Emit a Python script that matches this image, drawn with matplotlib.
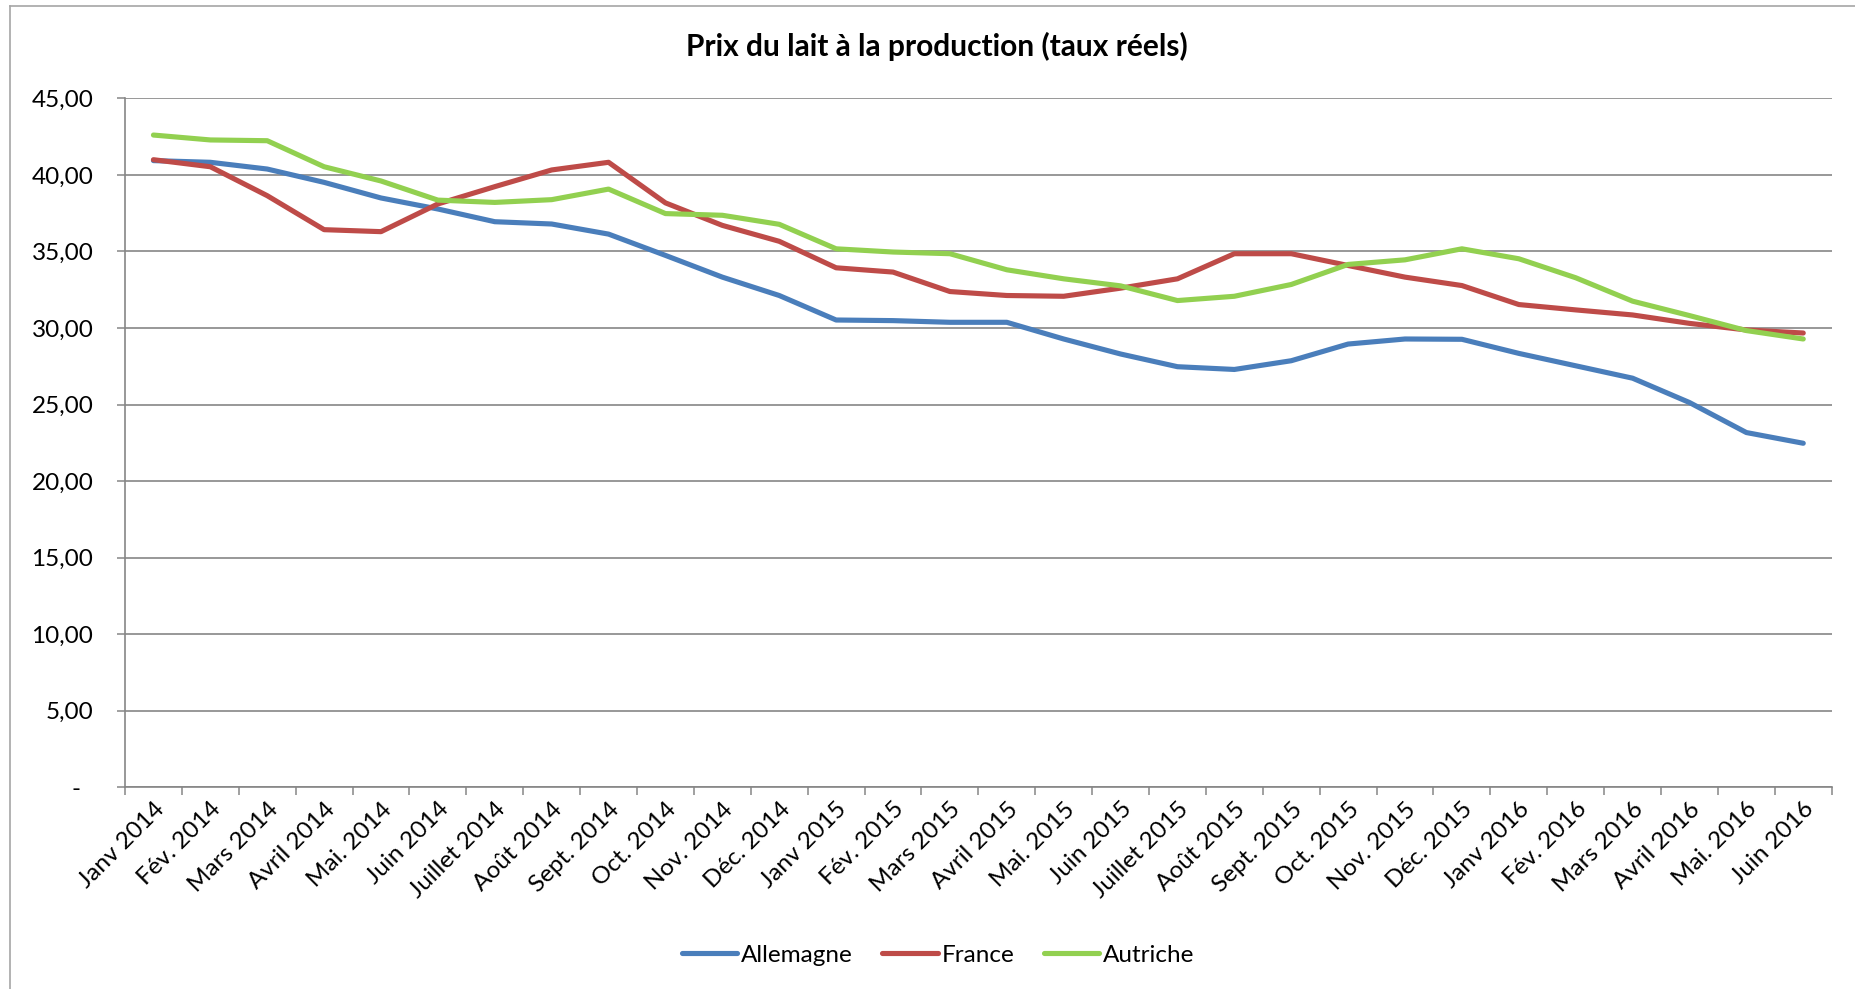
import matplotlib

matplotlib.use("Agg")
import matplotlib.pyplot as plt
from matplotlib.lines import Line2D

plt.rcParams["font.family"] = ["Lato", "DejaVu Sans"]

# Prix du lait (taux reels)
mois = [
    "Janv 2014", "Fév. 2014", "Mars 2014", "Avril 2014", "Mai. 2014", "Juin 2014",
    "Juillet 2014", "Août 2014", "Sept. 2014", "Oct. 2014", "Nov. 2014", "Déc. 2014",
    "Janv 2015", "Fév. 2015", "Mars 2015", "Avril 2015", "Mai. 2015", "Juin 2015",
    "Juillet 2015", "Août 2015", "Sept. 2015", "Oct. 2015", "Nov. 2015", "Déc. 2015",
    "Janv 2016", "Fév. 2016", "Mars 2016", "Avril 2016", "Mai. 2016", "Juin 2016",
]
allemagne = [40.93, 40.82, 40.38, 39.51, 38.49, 37.77, 36.94, 36.79, 36.13, 34.74,
             33.32, 32.12, 30.52, 30.48, 30.37, 30.37, 29.28, 28.30, 27.47, 27.29,
             27.86, 28.95, 29.28, 29.26, 28.34, 27.53, 26.72, 25.13, 23.17, 22.47]
france = [40.99, 40.53, 38.64, 36.42, 36.29, 38.10, 39.23, 40.32, 40.82, 38.17,
          36.70, 35.66, 33.93, 33.65, 32.38, 32.12, 32.07, 32.60, 33.21, 34.85,
          34.85, 34.08, 33.32, 32.77, 31.53, 31.18, 30.85, 30.30, 29.87, 29.67]
autriche = [42.60, 42.28, 42.23, 40.53, 39.60, 38.35, 38.20, 38.38, 39.07, 37.47,
            37.36, 36.77, 35.17, 34.96, 34.85, 33.80, 33.21, 32.75, 31.79, 32.07,
            32.84, 34.15, 34.45, 35.17, 34.52, 33.28, 31.75, 30.81, 29.83, 29.28]
yticks = [0, 5, 10, 15, 20, 25, 30, 35, 40, 45]

GRIS = "#868686"
W, H = 1856, 989
TAILLE = 17.5

fig = plt.figure(figsize=(W / 100, H / 100), dpi=100)
ax = fig.add_axes([125 / W, 1 - 787.3 / H, (1831.7 - 125) / W, (787.3 - 98.3) / H])

x = list(range(len(mois)))
series = [("Allemagne", allemagne, "#4A7EBB"),
          ("France", france, "#BE4B48"),
          ("Autriche", autriche, "#92D050")]
for nom, vals, couleur in series:
    ax.plot(x, vals, color=couleur, lw=3.7, label=nom,
            solid_capstyle="round", solid_joinstyle="round", zorder=3)

ax.set_xlim(-0.5, len(mois) - 0.5)
ax.set_ylim(0, 45)

ax.set_yticks(yticks)
ax.set_yticklabels(["-  "] + [f"{v:.2f}".replace(".", ",") for v in yticks[1:]])
ax.yaxis.grid(True, color=GRIS, lw=1.2)
ax.set_axisbelow(True)
ax.tick_params(axis="y", length=5.8, width=1.1, color=GRIS, pad=17, labelsize=TAILLE)

# etiquettes au centre des categories, graduations entre les categories
ax.set_xticks(x)
ax.set_xticklabels(mois, rotation=45, ha="right", va="top", rotation_mode="anchor")
ax.set_xticks([i - 0.5 for i in range(len(mois) + 1)], minor=True)
ax.tick_params(axis="x", which="major", length=0, pad=8, labelsize=TAILLE)
ax.tick_params(axis="x", which="minor", length=5.8, width=1.1, color=GRIS)

for s in ("top", "right"):
    ax.spines[s].set_visible(False)
for s in ("left", "bottom"):
    ax.spines[s].set_color(GRIS)
    ax.spines[s].set_linewidth(1.2)

fig.text(937 / W, 1 - 46 / H, "Prix du lait à la production (taux réels)",
         ha="center", va="center", fontsize=21.5, fontweight="bold")

fig.legend(loc="center", bbox_to_anchor=(938 / W, 1 - 955 / H), ncol=3,
           frameon=False, fontsize=TAILLE, handlelength=2.3, handletextpad=0.15,
           columnspacing=1.2)

# cadre du graphique (bords gauche et haut seulement visibles)
fig.add_artist(Line2D([10.5 / W, 10.5 / W], [1 - 5.7 / H, 0], color="#A6A6A6", lw=1.2))
fig.add_artist(Line2D([10 / W, 1], [1 - 5.7 / H, 1 - 5.7 / H], color="#A6A6A6", lw=1.2))

fig.savefig("out.png", dpi=100)
